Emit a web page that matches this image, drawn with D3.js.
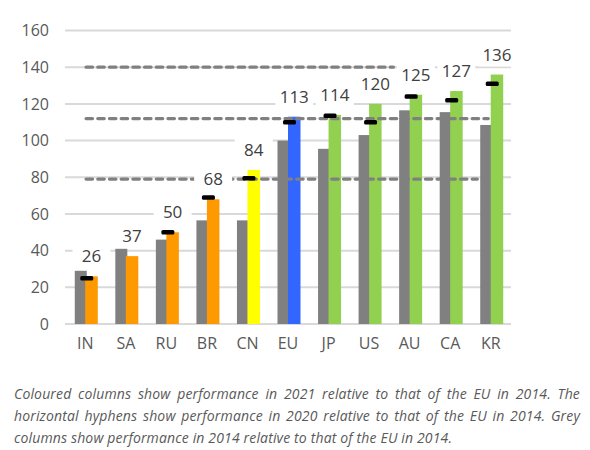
<!DOCTYPE html>
<html>
<head>
<meta charset="utf-8">
<script src="https://cdn.jsdelivr.net/npm/d3@7"></script>
<style>
  body { margin: 0; background: #fff; }
  #chart { position: relative; width: 590px; height: 450px; }
  #note {
    position: absolute; left: 14px; top: 383px; width: 566px;
    font-family: 'Open Sans', sans-serif; font-style: italic; font-size: 14px;
    letter-spacing: 0.15px; line-height: 22px; color: #595959; text-align: justify;
  }
</style>
</head>
<body>
<div id="chart">
  <div id="note">Coloured columns show performance in 2021 relative to that of the EU in 2014. The horizontal hyphens show performance in 2020 relative to that of the EU in 2014. Grey columns show performance in 2014 relative to that of the EU in 2014.</div>
</div>
<script>
const categories = ['IN', 'SA', 'RU', 'BR', 'CN', 'EU', 'JP', 'US', 'AU', 'CA', 'KR']
const perf2021 = [26, 37, 50, 68, 84, 113, 114, 120, 125, 127, 136]
const perf2020 = [25, null, 50, 69, 79.5, 110, 113.5, 110, 124, 122, 131]
const perf2014 = [29, 41, 46, 56.5, 56.5, 100, 95.5, 103, 116.5, 115.5, 108.5]
const barColors = ['#ff9900', '#ff9900', '#ff9900', '#ff9900', '#ffff00', '#3366ff',
  '#92d050', '#92d050', '#92d050', '#92d050', '#92d050']
const yTicks = [0, 20, 40, 60, 80, 100, 120, 140, 160]
// reference lines: value and extent in category units
const refLines = [
  { value: 140, from: 0.47, to: 8.1 },
  { value: 112, from: 0.47, to: 10.44 },
  { value: 79, from: 0.47, to: 10.17 }
]

const margin = { top: 30.5, left: 65, right: 79, bottom: 126 }
const width = 590 - margin.left - margin.right
const height = 450 - margin.top - margin.bottom

const svg = d3
  .select('#chart')
  .insert('svg', '#note')
  .attr('width', 590)
  .attr('height', 450)
  .style('position', 'absolute')
  .style('left', 0)
  .style('top', 0)
  .append('g')
  .attr('transform', 'translate(' + margin.left + ',' + margin.top + ')')

const xPositionScale = d3.scaleBand().domain(categories).range([0, width])
const xIndexScale = d3.scaleLinear().domain([0, categories.length]).range([0, width])
const yPositionScale = d3.scaleLinear().domain([0, 160]).range([height, 0])

const center = d => xPositionScale(d) + xPositionScale.bandwidth() / 2
const font = "'Open Sans', sans-serif"

// gridlines
svg
  .selectAll('.grid')
  .data(yTicks)
  .enter()
  .append('line')
  .attr('class', 'grid')
  .attr('x1', 0)
  .attr('x2', width)
  .attr('y1', d => yPositionScale(d))
  .attr('y2', d => yPositionScale(d))
  .attr('stroke', '#d9d9d9')
  .attr('stroke-width', 2)

// y axis labels
const yAxis = d3.axisLeft(yPositionScale).tickValues(yTicks).tickSize(0).tickPadding(16)
svg
  .append('g')
  .attr('class', 'axis y-axis')
  .call(yAxis)
  .call(g => g.select('.domain').remove())
  .selectAll('text')
  .attr('font-family', font)
  .attr('font-size', 16)
  .attr('fill', '#595959')

// x axis labels
const xAxis = d3.axisBottom(xPositionScale).tickSize(0).tickPadding(14)
svg
  .append('g')
  .attr('class', 'axis x-axis')
  .attr('transform', 'translate(0,' + height + ')')
  .call(xAxis)
  .call(g => g.select('.domain').remove())
  .selectAll('text')
  .attr('font-family', font)
  .attr('font-size', 16)
  .attr('fill', '#595959')

// grey 2014 columns
svg
  .selectAll('.bar2014')
  .data(categories)
  .enter()
  .append('rect')
  .attr('class', 'bar2014')
  .attr('x', d => center(d) - 10.5)
  .attr('width', 12)
  .attr('y', (d, i) => yPositionScale(perf2014[i]))
  .attr('height', (d, i) => height - yPositionScale(perf2014[i]))
  .attr('fill', '#808080')

// coloured 2021 columns
svg
  .selectAll('.bar2021')
  .data(categories)
  .enter()
  .append('rect')
  .attr('class', 'bar2021')
  .attr('x', d => center(d))
  .attr('width', 12.5)
  .attr('y', (d, i) => yPositionScale(perf2021[i]))
  .attr('height', (d, i) => height - yPositionScale(perf2021[i]))
  .attr('fill', (d, i) => barColors[i])

// dashed reference lines
svg
  .selectAll('.ref')
  .data(refLines)
  .enter()
  .append('line')
  .attr('class', 'ref')
  .attr('x1', d => xIndexScale(d.from) + 2)
  .attr('x2', d => xIndexScale(d.to))
  .attr('y1', d => yPositionScale(d.value))
  .attr('y2', d => yPositionScale(d.value))
  .attr('stroke', '#808080')
  .attr('stroke-width', 3.2)
  .attr('stroke-linecap', 'round')
  .attr('stroke-dasharray', '6.5,5.2')

// 2020 hyphens
svg
  .selectAll('.hyphen')
  .data(categories.filter((d, i) => perf2020[i] !== null))
  .enter()
  .append('rect')
  .attr('class', 'hyphen')
  .attr('x', d => center(d) - 5)
  .attr('width', 13)
  .attr('y', d => yPositionScale(perf2020[categories.indexOf(d)]) - 2.25)
  .attr('height', 4.5)
  .attr('rx', 1.5)
  .attr('fill', '#000')

// value labels with white boxes
const labels = svg
  .selectAll('.vlabel')
  .data(categories)
  .enter()
  .append('g')
  .attr('class', 'vlabel')
  .attr('transform', (d, i) =>
    'translate(' + (center(d) + 6.25) + ',' + (yPositionScale(perf2021[i]) - 14) + ')')

labels
  .append('rect')
  .attr('x', -19)
  .attr('width', 38)
  .attr('y', -17)
  .attr('height', 23)
  .attr('fill', '#fff')

labels
  .append('text')
  .text((d, i) => perf2021[i])
  .attr('text-anchor', 'middle')
  .attr('font-family', font)
  .attr('font-size', 17)
  .attr('fill', '#404040')
</script>
</body>
</html>
